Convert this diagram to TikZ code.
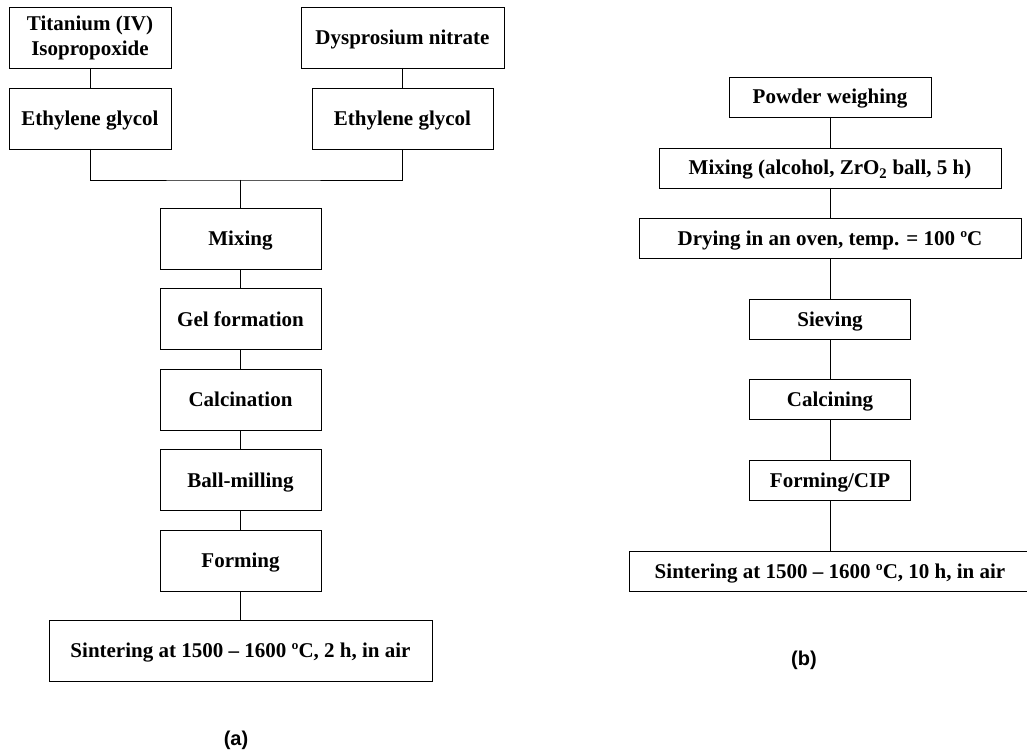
\documentclass[tikz,border=0pt]{standalone}
\usepackage{fontspec}
\setmainfont{Liberation Serif}
\newfontfamily\labelfont{Liberation Sans}
\usetikzlibrary{positioning}

\begin{document}
\begin{tikzpicture}[
  x=1pt, y=-1pt,
  font=\fontsize{21}{25}\selectfont\bfseries,
  frame/.style={draw, line width=0.9pt, inner sep=0pt, outer sep=0pt,
                align=center, minimum width=161pt, minimum height=61pt},
  box/.style={frame, text height=14pt, text depth=0pt},
  boxb/.style={box, minimum height=40pt},
  link/.style={line width=0.9pt},
  caption/.style={font=\labelfont\fontsize{20}{24}\selectfont\bfseries},
]
\useasboundingbox (0,0) rectangle (1027,754);

\node[frame, minimum width=162pt] (ti) at (90,37.5) {Titanium (IV)\\Isopropoxide};
\node[box, minimum width=203pt] (dy) at (402.5,37.5) {Dysprosium nitrate};
\node[box, minimum width=162pt, below=20pt of ti] (eg1) {Ethylene glycol};
\node[box, minimum width=181pt, below=20pt of dy] (eg2) {Ethylene glycol};

\node[box] (mix) at (240.5,238.5) {Mixing};
\coordinate[above=28pt of mix] (bus);
\node[box, below=19.5pt of mix] (gel) {Gel formation};
\node[box, below=19.5pt of gel] (calc) {Calcination};
\node[box, below=19.5pt of calc] (ball) {Ball-milling};
\node[box, below=19.5pt of ball] (form) {Forming};
\node[box, minimum width=383pt, below=29pt of form] (sinta)
    {Sintering at 1500 -- 1600 ºC, 2 h, in air};
\node[caption] (capa) at (236,740) {(a)};

\node[boxb, minimum width=202pt] (pw) at (830,97) {Powder weighing};
\node[boxb, minimum width=342pt, below=31pt of pw] (mixb)
    {Mixing (alcohol, ZrO\textsubscript{2} ball, 5 h)};
\node[boxb, minimum width=382pt, below=30pt of mixb] (dry)
    {Drying in an oven, temp. = 100 ºC};
\node[boxb, below=41pt of dry] (siev) {Sieving};
\node[boxb, below=40pt of siev] (calb) {Calcining};
\node[boxb, below=41pt of calb] (formb) {Forming/CIP};
\node[boxb, minimum width=402pt, below=51pt of formb] (sintb)
    {Sintering at 1500 -- 1600 ºC, 10 h, in air};
\node[caption] (capb) at (804,660) {(b)};

\draw[link] (ti) -- (eg1);
\draw[link] (dy) -- (eg2);
\draw[link] (eg1) |- (bus) -| (eg2);
\draw[link] (bus) -- (mix);
\draw[link] (mix) -- (gel);
\draw[link] (gel) -- (calc);
\draw[link] (calc) -- (ball);
\draw[link] (ball) -- (form);
\draw[link] (form) -- (sinta);

\draw[link] (pw) -- (mixb);
\draw[link] (mixb) -- (dry);
\draw[link] (dry) -- (siev);
\draw[link] (siev) -- (calb);
\draw[link] (calb) -- (formb);
\draw[link] (formb) -- (sintb);

\end{tikzpicture}
\end{document}
